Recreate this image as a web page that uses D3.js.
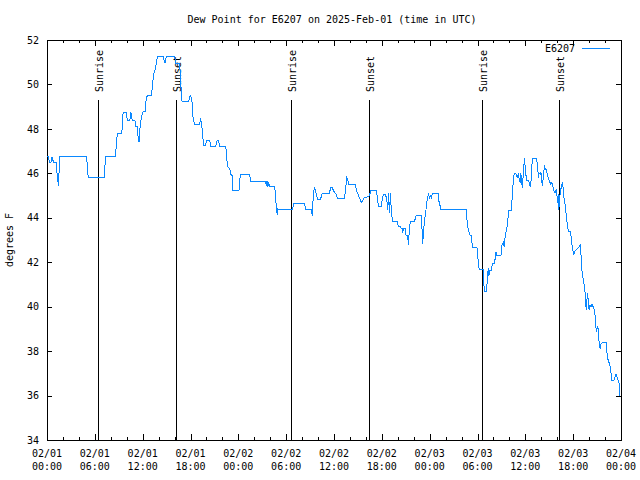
<!DOCTYPE html>
<html><head><meta charset="utf-8">
<script src="https://cdn.jsdelivr.net/npm/d3@7"></script>
<style>
body{margin:0;background:#fff;}
svg{display:block;}
text{font-family:"DejaVu Sans Mono","Liberation Mono",monospace;font-size:10px;fill:#000;}
</style></head><body>
<svg id="chart" width="640" height="480"></svg>
<script>
const chartTitle = "Dew Point for E6207 on 2025-Feb-01 (time in UTC)";
const yLabel = "degrees F";
const seriesName = "E6207";
const startTime = "2025-02-01T00:00:00Z";
const endTime = "2025-02-04T00:00:00Z";
const yDomain = [34, 52];
const yTicks = [34, 36, 38, 40, 42, 44, 46, 48, 50, 52];
// hours since 2025-02-01 00:00 UTC
const hours = [0.06,0.16,0.31,0.50,0.63,0.81,1.13,1.19,1.34,1.42,1.54,1.63,4.97,5.07,5.17,7.18,7.26,7.35,8.60,8.68,8.74,8.83,9.39,9.45,9.55,9.98,10.06,10.39,10.52,10.68,11.02,11.14,11.33,11.43,11.56,11.68,11.86,12.06,12.33,12.40,12.48,12.68,13.11,13.24,13.40,13.61,13.74,13.86,14.56,14.78,14.96,16.03,16.12,16.65,16.74,16.87,16.94,17.78,17.91,18.03,18.19,18.32,18.50,19.16,19.25,19.41,19.53,19.66,19.87,20.04,20.41,20.54,21.16,21.35,21.50,21.66,22.41,22.50,22.63,22.92,23.04,23.23,23.29,24.08,24.17,24.23,25.42,25.55,27.36,27.51,27.59,27.71,27.80,27.92,28.55,28.64,28.76,28.89,28.96,29.05,30.80,30.93,32.31,32.43,33.18,33.27,33.43,33.56,33.77,33.93,34.31,34.52,35.44,35.56,35.81,35.94,36.28,36.44,37.32,37.53,37.60,37.73,37.82,38.69,38.82,39.07,39.41,39.57,39.82,40.07,40.32,40.45,40.66,41.32,41.45,41.57,41.95,42.04,42.20,42.45,42.61,42.74,42.86,42.95,43.08,43.20,43.36,43.95,44.08,44.29,44.42,44.54,44.62,44.70,44.95,45.04,45.24,45.33,45.46,45.58,46.08,46.21,46.33,46.92,46.99,47.12,47.33,47.46,47.55,47.71,47.87,47.96,48.08,48.21,48.34,49.09,49.21,49.34,49.42,52.56,52.63,52.76,52.88,53.06,53.26,53.34,53.93,54.01,54.13,54.22,54.72,54.76,54.85,55.13,55.26,55.35,55.43,55.56,55.76,55.85,56.10,56.19,56.31,56.39,56.94,57.06,57.23,57.35,57.48,57.64,57.76,57.91,58.27,58.39,58.52,58.60,58.82,58.98,59.14,59.23,59.35,59.44,59.57,59.64,59.77,59.89,59.98,60.14,60.39,60.48,60.61,60.73,60.82,60.89,61.40,61.52,61.65,61.73,61.86,61.95,62.07,62.15,62.27,62.40,62.48,62.65,62.77,62.90,63.02,63.20,63.32,63.40,63.52,63.65,63.74,63.82,63.92,64.03,64.11,64.20,64.28,64.40,64.53,64.65,64.78,64.86,64.99,65.15,65.28,65.40,65.62,65.74,65.83,65.95,66.08,66.15,66.33,66.53,66.74,66.87,66.96,67.03,67.16,67.28,67.46,67.58,67.66,67.74,67.83,67.91,68.00,68.12,68.24,68.37,68.50,68.66,68.75,68.83,68.96,69.03,69.16,69.25,69.37,69.50,69.66,70.16,70.29,70.41,70.59,70.71,70.84,71.13,71.25,71.38,71.50,71.63,71.75,71.84];
const dewPoint = [46.75,46.75,46.5,46.5,46.75,46.5,46.5,46.2,45.8,45.45,46.2,46.75,46.75,46.3,45.8,45.8,46.3,46.75,46.75,47.2,47.5,47.8,47.8,48.3,48.75,48.75,48.4,48.4,48.75,48.4,48.4,48.1,48.1,47.6,47.4,48.1,48.55,48.77,48.77,49.2,49.45,49.5,49.5,50.05,50.5,50.73,51.0,51.25,51.25,50.95,51.25,51.25,50.95,50.95,50.2,49.6,49.22,49.22,49.45,49.5,49.22,48.5,48.2,48.2,48.5,48.2,47.7,47.27,47.27,47.5,47.5,47.23,47.23,47.5,47.5,47.23,47.23,46.97,46.3,46.22,45.97,45.9,45.25,45.25,45.47,45.95,45.95,45.65,45.65,45.5,45.65,45.4,45.6,45.4,45.4,45.1,44.5,44.12,44.4,44.38,44.38,44.65,44.65,44.38,44.38,44.1,45.17,45.37,45.1,44.83,44.83,45.1,45.1,45.35,45.35,45.2,45.07,44.85,44.85,45.55,45.8,45.7,45.5,45.5,45.2,45.02,44.68,44.75,44.92,44.92,44.95,45.02,45.25,45.25,44.87,44.5,44.5,44.8,45.05,45.05,44.85,44.35,45.1,44.2,45.1,44.2,43.82,43.82,43.6,43.6,43.52,43.52,43.3,43.52,43.52,43.22,43.22,42.77,43.5,43.85,43.85,43.97,44.12,44.12,43.9,42.82,43.8,44.12,44.4,44.87,45.1,44.85,45.0,44.9,45.1,45.1,44.57,44.57,44.38,44.38,44.12,43.6,43.42,43.22,43.22,42.67,42.67,42.37,41.87,41.68,41.68,41.38,40.68,40.68,41.4,41.72,41.4,41.62,41.62,41.95,41.95,42.1,42.47,42.3,42.3,42.77,42.9,42.7,43.22,43.45,43.67,44.35,44.35,45.25,45.7,46.0,46.0,45.8,46.0,45.7,45.62,46.0,45.5,45.35,46.15,46.67,46.3,45.7,45.7,45.6,45.4,45.7,46.3,46.67,46.67,46.37,45.77,46.0,45.95,46.05,45.6,45.43,45.9,46.37,46.22,46.15,45.95,45.77,45.65,45.5,45.6,45.47,45.32,45.1,45.25,45.17,45.3,44.65,45.05,44.35,44.8,45.2,45.4,45.62,45.25,44.87,44.6,44.05,43.67,43.37,43.37,43.15,42.85,42.55,42.32,42.45,42.55,42.6,42.7,42.77,42.55,41.87,41.42,41.2,40.83,40.07,39.85,40.37,40.6,40.07,39.85,40.07,40.0,40.1,40.0,39.85,39.6,39.1,38.87,39.1,39.0,38.42,38.12,38.35,38.38,38.38,37.67,37.6,37.37,37.15,36.7,36.7,36.85,36.97,36.85,36.7,36.55,36.0];
const sunEvents = ["Sunrise","Sunset","Sunrise","Sunset","Sunrise","Sunset"];
const sunTimes = ["2025-02-01T06:26:00Z","2025-02-01T16:14:00Z","2025-02-02T06:33:00Z","2025-02-02T16:20:00Z","2025-02-03T06:32:00Z","2025-02-03T16:17:00Z"];

const svg = d3.select("#chart");
const W = 640, H = 480;
const m = {left: 47, right: 19, top: 40, bottom: 40};
const t0 = new Date(startTime), t1 = new Date(endTime);
const x = d3.scaleUtc().domain([t0, t1]).range([m.left, W - m.right]);
const y = d3.scaleLinear().domain(yDomain).range([H - m.bottom, m.top]);
const data = hours.map((h, i) => ({t: new Date(t0.getTime() + h * 3600000), v: dewPoint[i]}));

const major = d3.utcHour.every(6).range(t0, new Date(t1.getTime() + 1));
const minor = d3.utcHour.every(2).range(t0, new Date(t1.getTime() + 1)).filter(d => d.getUTCHours() % 6 !== 0);

function styleAxis(g){ g.select(".domain").remove(); g.selectAll("line").attr("stroke","#000").attr("shape-rendering","crispEdges"); }

// bottom axis
svg.append("g").attr("transform", `translate(0,${H - m.bottom})`)
  .call(d3.axisBottom(x).tickValues(major).tickSize(-6).tickFormat(() => ""))
  .call(styleAxis)
  .call(g => g.selectAll(".tick text").remove());
svg.append("g").attr("transform", `translate(0,${H - m.bottom})`)
  .call(d3.axisBottom(x).tickValues(minor).tickSize(-3).tickFormat(() => ""))
  .call(styleAxis);
// top axis
svg.append("g").attr("transform", `translate(0,${m.top})`)
  .call(d3.axisTop(x).tickValues(major).tickSize(-6).tickFormat(() => ""))
  .call(styleAxis);
svg.append("g").attr("transform", `translate(0,${m.top})`)
  .call(d3.axisTop(x).tickValues(minor).tickSize(-3).tickFormat(() => ""))
  .call(styleAxis);
// left / right axes
svg.append("g").attr("transform", `translate(${m.left},0)`)
  .call(d3.axisLeft(y).tickValues(yTicks).tickSize(-5).tickPadding(8).tickFormat(d3.format("d")))
  .call(styleAxis)
  .call(g => g.selectAll(".tick text").attr("font-family", null).attr("font-size", null).attr("fill","#000"));
svg.append("g").attr("transform", `translate(${W - m.right},0)`)
  .call(d3.axisRight(y).tickValues(yTicks).tickSize(-5).tickFormat(() => ""))
  .call(styleAxis);

// x tick labels (two lines)
const fDate = d3.utcFormat("%m/%d"), fTime = d3.utcFormat("%H:%M");
const xl = svg.append("g").selectAll("text").data(major).join("text")
  .attr("text-anchor", "middle").attr("x", d => x(d));
xl.append("tspan").attr("x", d => x(d)).attr("y", H - m.bottom + 17).text(fDate);
xl.append("tspan").attr("x", d => x(d)).attr("y", H - m.bottom + 30).text(fTime);

// frame
svg.append("rect").attr("x", m.left).attr("y", m.top)
  .attr("width", W - m.left - m.right).attr("height", H - m.top - m.bottom)
  .attr("fill", "none").attr("stroke", "#000").attr("shape-rendering", "crispEdges");

// sunrise / sunset markers
const sg = svg.append("g");
sunTimes.forEach((s, i) => {
  const xs = Math.round(x(new Date(s))) + 0.5;
  sg.append("line").attr("x1", xs).attr("x2", xs).attr("y1", 100).attr("y2", H - m.bottom)
    .attr("stroke", "#000").attr("shape-rendering", "crispEdges");
  sg.append("text").attr("transform", `translate(${xs + 4},92) rotate(-90)`)
    .attr("text-anchor", "start").text(sunEvents[i]);
});

// data line
svg.append("path").datum(data)
  .attr("fill", "none").attr("stroke", "#0a88ff").attr("stroke-width", 1)
  .attr("shape-rendering", "crispEdges")
  .attr("d", d3.line().x(d => x(d.t)).y(d => y(d.v)));

// title
svg.append("text").attr("x", 332).attr("y", 23).attr("text-anchor", "middle").text(chartTitle);
// y label
svg.append("text").attr("transform", "translate(13,240) rotate(-90)").attr("text-anchor", "middle").text(yLabel);
// legend
svg.append("text").attr("x", 575).attr("y", 52).attr("text-anchor", "end").text(seriesName);
svg.append("line").attr("x1", 582).attr("x2", 610).attr("y1", 48.5).attr("y2", 48.5)
  .attr("stroke", "#0a88ff").attr("shape-rendering", "crispEdges");
</script></body></html>
